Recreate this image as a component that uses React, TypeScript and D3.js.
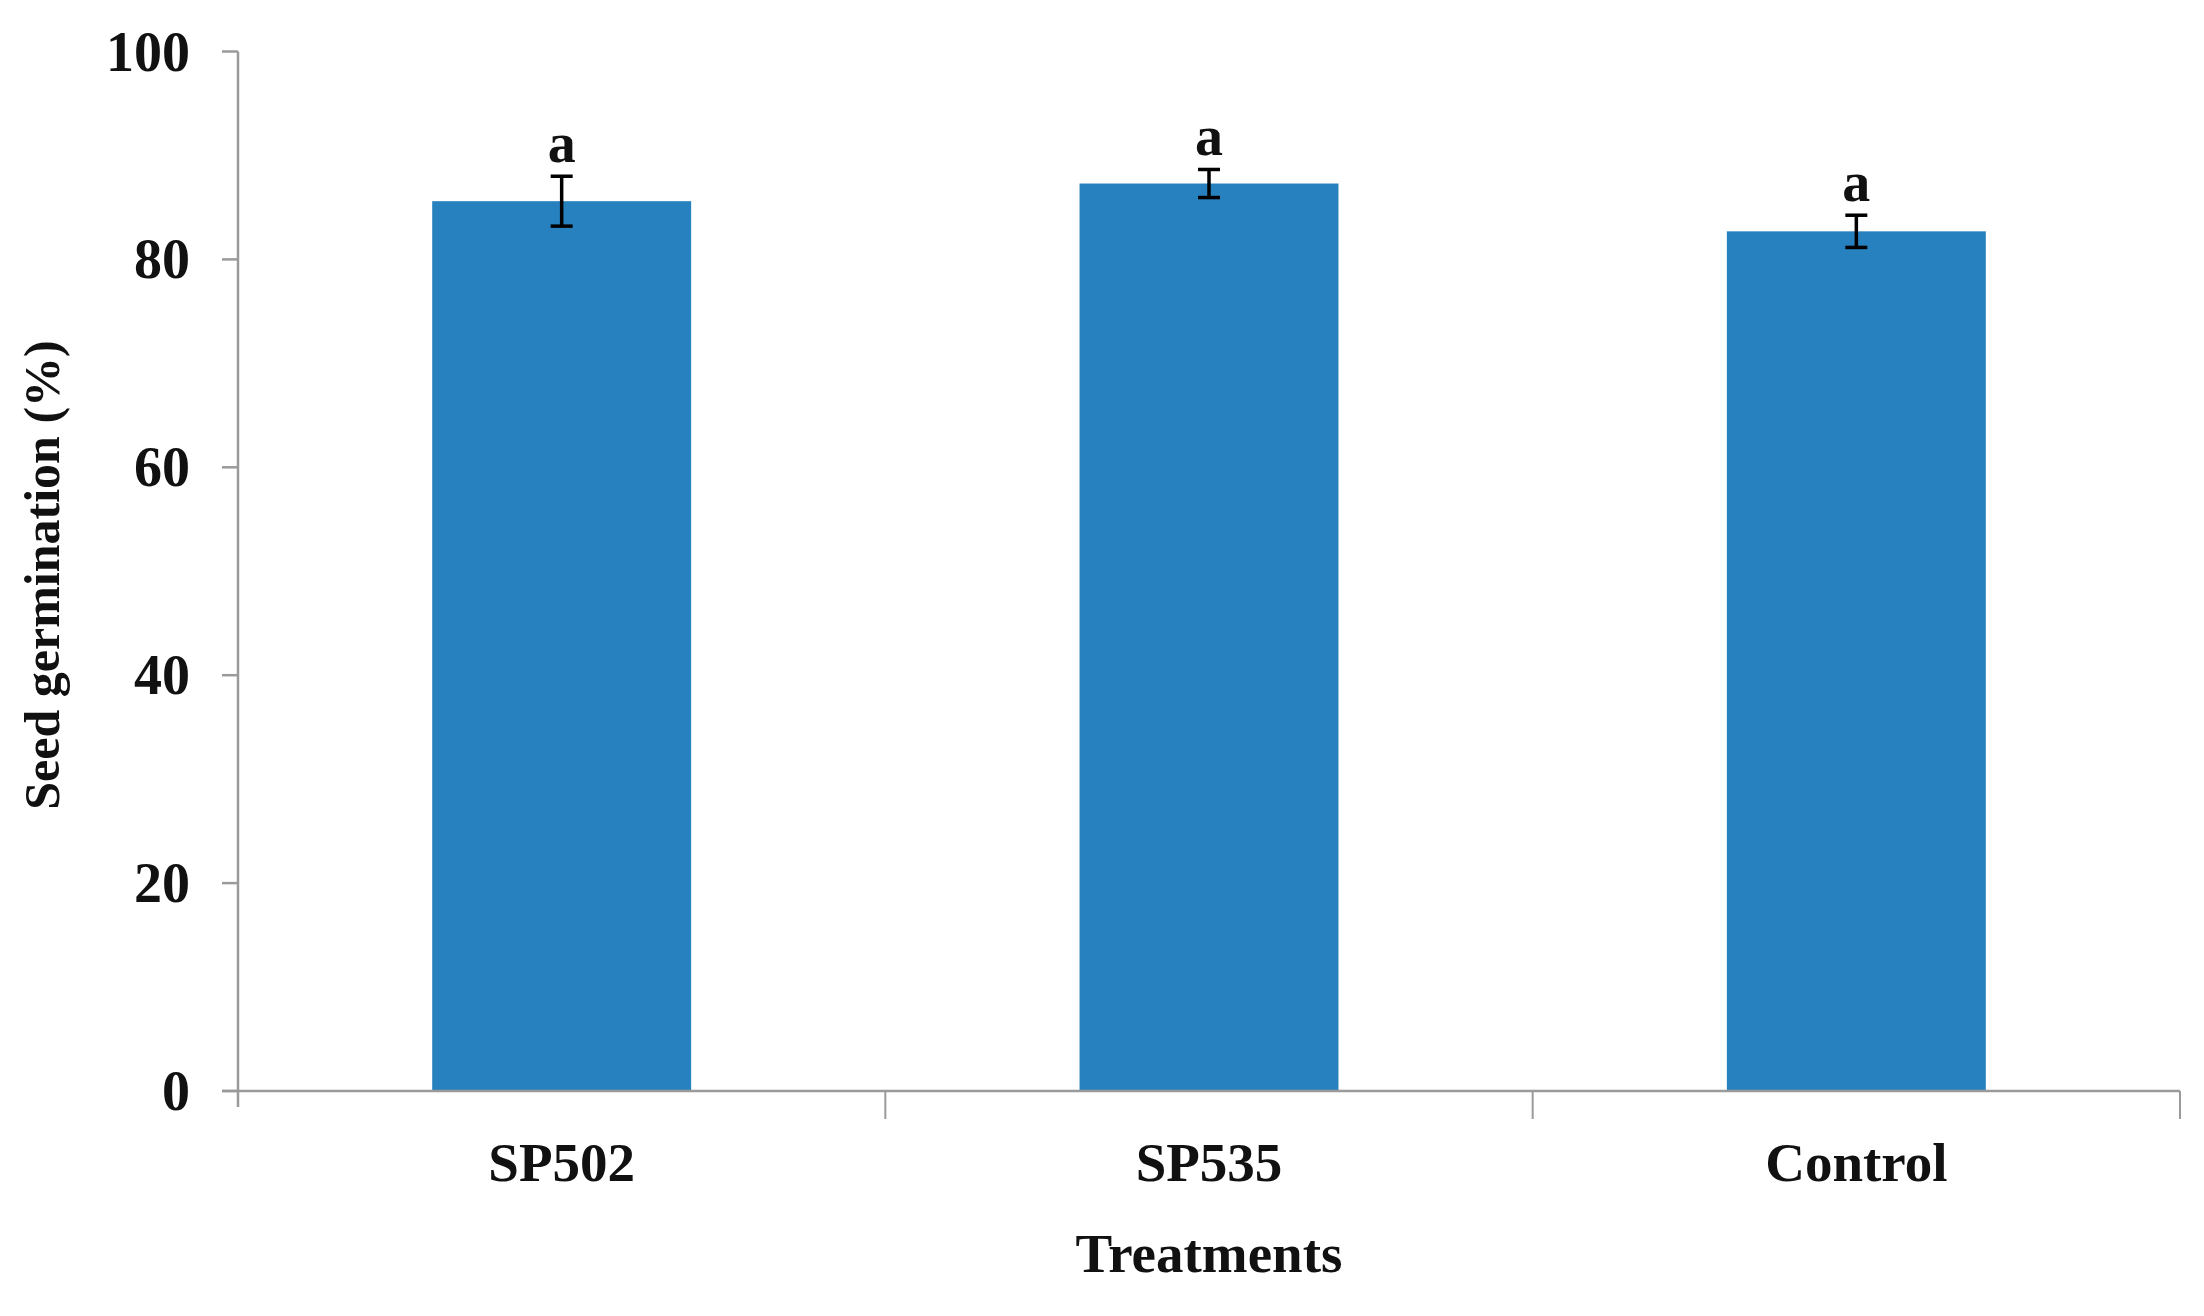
import React from "react";
import * as d3 from "d3";

const categories = ["SP502", "SP535", "Control"];
const values = [85.6, 87.3, 82.7];
const errors = [2.4, 1.35, 1.55];
const letters = ["a", "a", "a"];
const yTicks = [0, 20, 40, 60, 80, 100];

const W = 2204;
const H = 1316;
const FONT = "'Liberation Serif', 'Times New Roman', serif";

export default function App() {
  const left = 238;
  const right = 2180;
  const top = 51.5;
  const bottom = 1091;

  const x = d3
    .scaleBand<string>()
    .domain(categories)
    .range([left, right])
    .paddingInner(0.6)
    .paddingOuter(0.3);
  const xOuter = d3.scaleBand<string>().domain(categories).range([left, right]).padding(0);
  const y = d3.scaleLinear().domain([0, 100]).range([bottom, top]);

  const axisColor = "#9a9a9a";

  return (
    <svg
      width={W}
      height={H}
      style={{ position: "absolute", left: 0, top: 0, background: "#fff" }}
    >
      {/* bars */}
      {categories.map((c, i) => (
        <rect
          key={c}
          x={x(c)!}
          y={y(values[i])}
          width={x.bandwidth()}
          height={y(0) - y(values[i])}
          fill="#2781bf"
        />
      ))}

      {/* axes */}
      <line x1={left} x2={left} y1={y(100)} y2={bottom + 16} stroke={axisColor} strokeWidth={2.5} />
      <line x1={left - 16} x2={right} y1={bottom} y2={bottom} stroke={axisColor} strokeWidth={2.5} />
      {yTicks.map((t) => (
        <g key={t}>
          <line x1={left - 16} x2={left} y1={y(t)} y2={y(t)} stroke={axisColor} strokeWidth={2.5} />
          <text
            x={190}
            y={y(t)}
            textAnchor="end"
            dominantBaseline="central"
            fontFamily={FONT}
            fontWeight="bold"
            fontSize={56}
            fill="#111"
          >
            {t}
          </text>
        </g>
      ))}
      {categories.map((c) => (
        <line
          key={c}
          x1={xOuter(c)! + xOuter.bandwidth()}
          x2={xOuter(c)! + xOuter.bandwidth()}
          y1={bottom}
          y2={bottom + 28}
          stroke={axisColor}
          strokeWidth={2}
        />
      ))}

      {/* error bars */}
      {categories.map((c, i) => {
        const cx = x(c)! + x.bandwidth() / 2;
        const hi = y(values[i] + errors[i]);
        const lo = y(values[i] - errors[i]);
        return (
          <g key={c} stroke="#000" strokeWidth={3.5}>
            <line x1={cx} x2={cx} y1={hi} y2={lo} />
            <line x1={cx - 11} x2={cx + 11} y1={hi} y2={hi} />
            <line x1={cx - 11} x2={cx + 11} y1={lo} y2={lo} />
          </g>
        );
      })}

      {/* letters */}
      {categories.map((c, i) => (
        <text
          key={c}
          x={x(c)! + x.bandwidth() / 2}
          y={y(values[i] + errors[i]) - 14}
          textAnchor="middle"
          fontFamily={FONT}
          fontWeight="bold"
          fontSize={56}
          fill="#111"
        >
          {letters[i]}
        </text>
      ))}

      {/* x labels */}
      {categories.map((c) => (
        <text
          key={c}
          x={x(c)! + x.bandwidth() / 2}
          y={1181}
          textAnchor="middle"
          fontFamily={FONT}
          fontWeight="bold"
          fontSize={55}
          fill="#111"
        >
          {c}
        </text>
      ))}

      <text
        x={(left + right) / 2}
        y={1272}
        textAnchor="middle"
        fontFamily={FONT}
        fontWeight="bold"
        fontSize={55}
        fill="#111"
      >
        Treatments
      </text>

      <text
        transform={`translate(42, 575) rotate(-90)`}
        textAnchor="middle"
        dominantBaseline="central"
        fontFamily={FONT}
        fontWeight="bold"
        fontSize={50}
        fill="#111"
      >
        Seed germination (%)
      </text>
    </svg>
  );
}
